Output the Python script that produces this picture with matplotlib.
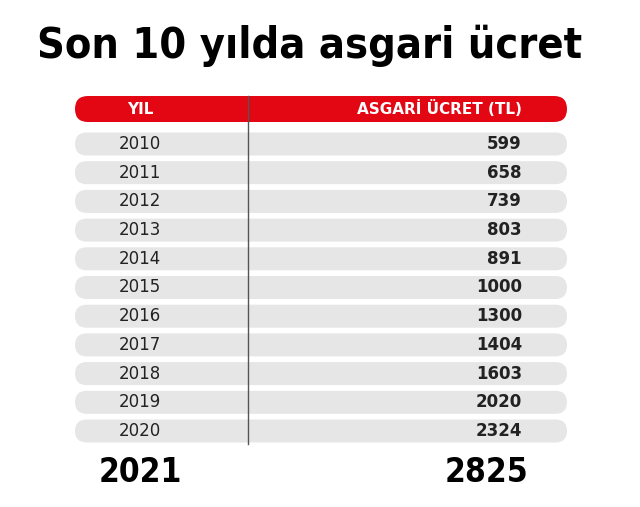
import matplotlib.pyplot as plt
from matplotlib.patches import FancyBboxPatch

years = ['2010', '2011', '2012', '2013', '2014', '2015', '2016', '2017', '2018', '2019', '2020']
wages = [599, 658, 739, 803, 891, 1000, 1300, 1404, 1603, 2020, 2324]
next_year = '2021'
next_wage = 2825

fig = plt.figure(figsize=(6.4, 5.07), dpi=100)
ax = fig.add_axes([0, 0, 1, 1])
ax.set_xlim(0, 640)
ax.set_ylim(507, 0)
ax.axis('off')

# title
ax.text(310, 46, 'Son 10 yılda asgari ücret', fontsize=31, fontweight='bold',
        fontstretch='condensed', ha='center', va='center', color='black')

# header bar
ax.add_patch(FancyBboxPatch((75, 96), 492, 26, boxstyle='round,pad=0,rounding_size=13',
                            fc='#e30613', ec='none'))
ax.text(140, 109, 'YIL', color='white', fontsize=11, fontweight='bold', ha='center', va='center')
ax.text(522, 109, 'ASGARİ ÜCRET (TL)', color='white', fontsize=11, fontweight='bold',
        ha='right', va='center')

# rows
step = 28.7
for i, (y, w) in enumerate(zip(years, wages)):
    yc = 144 + i * step
    ax.add_patch(FancyBboxPatch((75, yc - 11.5), 492, 23, boxstyle='round,pad=0,rounding_size=11.5',
                                fc='#e6e6e6', ec='none'))
    ax.text(140, yc, y, fontsize=12, ha='center', va='center', color='#222222')
    ax.text(522, yc, str(w), fontsize=12, fontweight='bold', ha='right', va='center', color='#222222')

ax.plot([248, 248], [96, 444], color='#555555', lw=1)

ax.text(140, 472, next_year, fontsize=24, fontweight='bold', fontstretch='condensed',
        ha='center', va='center')
ax.text(528, 472, str(next_wage), fontsize=24, fontweight='bold', fontstretch='condensed',
        ha='right', va='center')

fig.savefig('out.png', dpi=100)
